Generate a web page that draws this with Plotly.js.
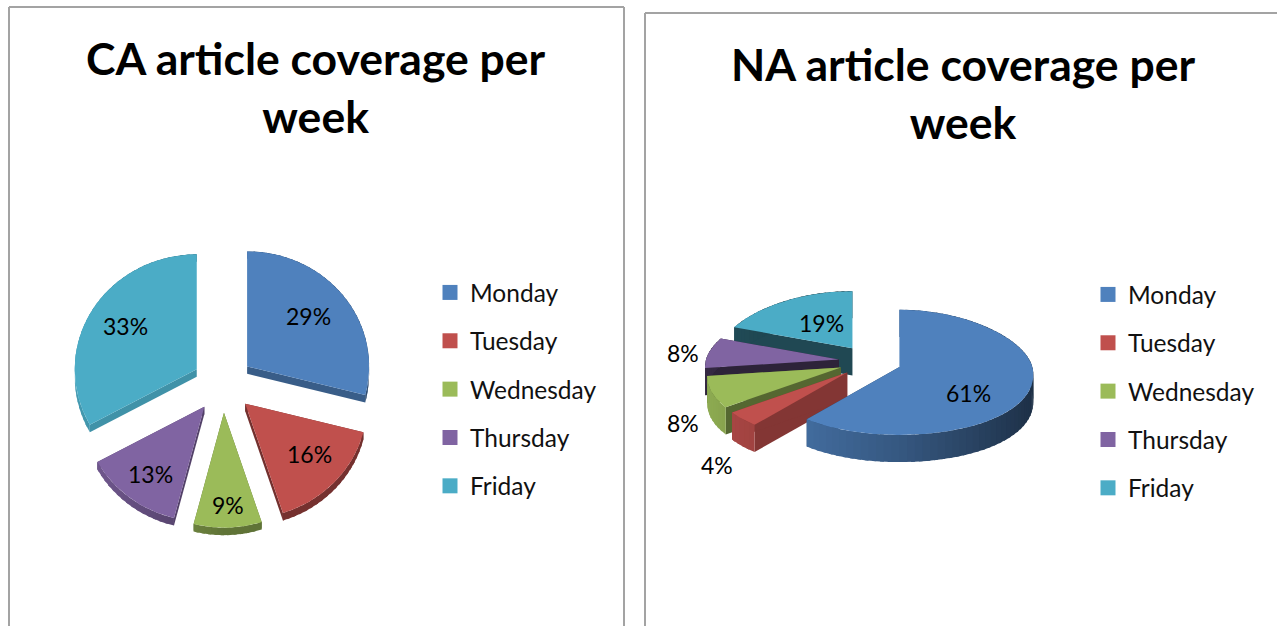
<!DOCTYPE html>
<html><head><meta charset="utf-8">
<script src="https://cdn.plot.ly/plotly-3.0.1.min.js"></script>
<style>html,body{margin:0;padding:0;background:#fff;overflow:hidden}</style>
</head><body><div id="chart" style="width:1277px;height:626px"></div>
<script>
const days = ["Monday","Tuesday","Wednesday","Thursday","Friday"];
const caValues = [29,16,9,13,33];
const naValues = [61,4,8,8,19];
const caTitle = "CA article coverage per<br>week";
const naTitle = "NA article coverage per<br>week";
const colors = ["#4F81BD","#C0504D","#9BBB59","#8064A2","#4BACC6"];

const W = 1277, H = 626, FONT = "Lato, Carlito, 'Open Sans', sans-serif";

function shade(hex, f){
  const n = parseInt(hex.slice(1),16);
  const c = [n>>16&255,n>>8&255,n&255].map(v=>Math.round(v*f));
  return `rgb(${c[0]},${c[1]},${c[2]})`;
}

/* Each chart: pie geometry in axis units; axis ranges set the on-screen tilt. */
const charts = [
 {values:caValues, xa:"x",  ya:"y",  pull:.25,  depth:.065, back:1, persp:0,
  shift:[[-6,1],[2,5],[1,-12],[-1,-4],[2,2]], labelR:.7,
  radial:[.72,.6,.6,.65,.85], arcMul:[1,1,1,1,1], arcLeft:.9, arcFront:.62, arcRight:.6, order:[0,1,2,3,4]},
 {values:naValues, xa:"x2", ya:"y2", pull:.235, depth:.4,  back:.84, persp:.12,
  shift:[[0,-13],[-77,-67],[-90,-42],[-83,3],[10,-1]], labelR:.55,
  radial:[.5,.68,.55,.35,.42], arcMul:[1,1,1,.45,.48], arcLeft:.92, arcFront:.68, arcRight:.36, order:[4,3,2,1,0]}
];

const traces = [], annotations = [];
const D2R = Math.PI/180;

charts.forEach(ch=>{
  const total = ch.values.reduce((a,b)=>a+b,0);
  const mapY = y => y>0 ? y*ch.back : y;
  let acc = 0;
  const slices = ch.values.map((v,i)=>{
    const a0 = acc/total*360; acc += v; const a1 = acc/total*360;
    return {i,v,a0,a1,mid:(a0+a1)/2};
  });
  const add = (xs,ys,color,name)=>traces.push({
    type:"scatter",mode:"lines",fill:"toself",x:xs,y:ys,xaxis:ch.xa,yaxis:ch.ya,
    fillcolor:color,line:{color:color,width:0},showlegend:false,
    hoverinfo:name?"text":"skip",text:name||undefined,hoveron:"fills"});

  ch.order.forEach(k=>{
    const s = slices[k], base = colors[s.i];
    const ox = ch.pull*Math.sin(s.mid*D2R), oy = ch.pull*Math.cos(s.mid*D2R);
    const pt = a => {
      const c = Math.cos(a*D2R);
      return [ox+Math.sin(a*D2R)*(1-ch.persp*c), oy+mapY(c)];
    };
    const apex = [ox,oy], d = ch.depth;

    // radial faces
    [s.a0,s.a1].forEach(a=>{
      const p = pt(a);
      add([apex[0],p[0],p[0],apex[0]],[apex[1],p[1],p[1]-d,apex[1]-d],shade(base,ch.radial[s.i]));
    });
    // curved face, split in shaded bands; each band overlaps the next to hide seams
    const step = 3;
    for(let a=s.a0;a<s.a1-1e-6;a+=step){
      const bEnd = Math.min(a+step,s.a1), b = Math.min(bEnd+1.5,s.a1), xs=[], ys=[];
      [a,(a+b)/2,b].forEach(t=>{const p=pt(t);xs.push(p[0]);ys.push(p[1]);});
      const nx = Math.sin((a+bEnd)/2*D2R);
      const f = (nx<0 ? ch.arcFront+(ch.arcLeft-ch.arcFront)*(-nx) : ch.arcFront+(ch.arcRight-ch.arcFront)*nx)*ch.arcMul[s.i];
      for(let j=2;j>=0;j--){xs.push(xs[j]);ys.push(ys[j]-d);}
      add(xs,ys,shade(base,f));
    }
    // top surface
    const tx=[apex[0]], ty=[apex[1]];
    for(let t=s.a0;t<s.a1;t+=1){const p=pt(t);tx.push(p[0]);ty.push(p[1]);}
    const e=pt(s.a1); tx.push(e[0],apex[0]); ty.push(e[1],apex[1]);
    add(tx,ty,base,`${days[s.i]}: ${s.v}%`);

    // value label
    const lp = [ox+ch.labelR*Math.sin(s.mid*D2R), oy+ch.labelR*mapY(Math.cos(s.mid*D2R))];
    annotations.push({xref:ch.xa,yref:ch.ya,x:lp[0],y:lp[1],text:s.v+"%",showarrow:false,
      xanchor:"center",yanchor:"middle",xshift:ch.shift[s.i][0],yshift:ch.shift[s.i][1],
      font:{family:FONT,size:23,color:"#000"}});
  });
});

// legend entries
["legend","legend2"].forEach(lg=>{
  days.forEach((d,i)=>traces.push({type:"scatter",mode:"markers",x:[null],y:[null],name:d,
    xaxis:lg==="legend"?"x":"x2",yaxis:lg==="legend"?"y":"y2",legend:lg,legendgroup:lg+i,showlegend:true,
    marker:{symbol:"square",size:15,color:colors[i]}}));
});

function titleAnn(text,px,py){
  return {xref:"paper",yref:"paper",x:px/W,y:1-py/H,text:text,showarrow:false,
    xanchor:"center",yanchor:"top",align:"center",font:{family:FONT,size:44.5,color:"#000",weight:700}};
}
annotations.push(titleAnn("<b>"+caTitle.replace("<br>","</b><br><b>")+"</b>",316,29));
annotations.push(titleAnn("<b>"+naTitle.replace("<br>","</b><br><b>")+"</b>",963,35));

function frameLine(x0,y0,x1,y1){
  return {type:"line",xref:"paper",yref:"paper",x0:x0/W,x1:x1/W,y0:1-y0/H,y1:1-y1/H,
    line:{color:"#a3a3a3",width:2}};
}
function legendCfg(px,py){
  return {x:px/W,y:1-py/H,xanchor:"left",yanchor:"top",bgcolor:"rgba(0,0,0,0)",
    font:{family:FONT,size:24.5,color:"#111"},tracegroupgap:13.5,itemclick:false,itemdoubleclick:false};
}
const hidden = {visible:false,showgrid:false,zeroline:false,fixedrange:true};
const splitX = .5*W;
const layout = {
  width:W,height:H,margin:{l:0,r:0,t:0,b:0},paper_bgcolor:"#fff",plot_bgcolor:"#fff",
  xaxis:{...hidden,domain:[0,.5],range:[-223/122,(splitX-223)/122]},
  yaxis:{...hidden,domain:[0,1],range:[-(H-384)/115,384/115]},
  xaxis2:{...hidden,domain:[.5,1],range:[-(870-splitX)/133,(W-870)/133]},
  yaxis2:{...hidden,domain:[0,1],range:[-(H-361.5)/68,361.5/68]},
  legend:legendCfg(430,270),
  legend2:legendCfg(1088,272),
  annotations:annotations,
  shapes:[
    frameLine(9,7,9,H),frameLine(9,7,624,7),frameLine(624,7,624,H),
    frameLine(645,13,645,H),frameLine(645,13,W,13)
  ]
};
Plotly.newPlot("chart",traces,layout,{displayModeBar:false});
</script></body></html>
